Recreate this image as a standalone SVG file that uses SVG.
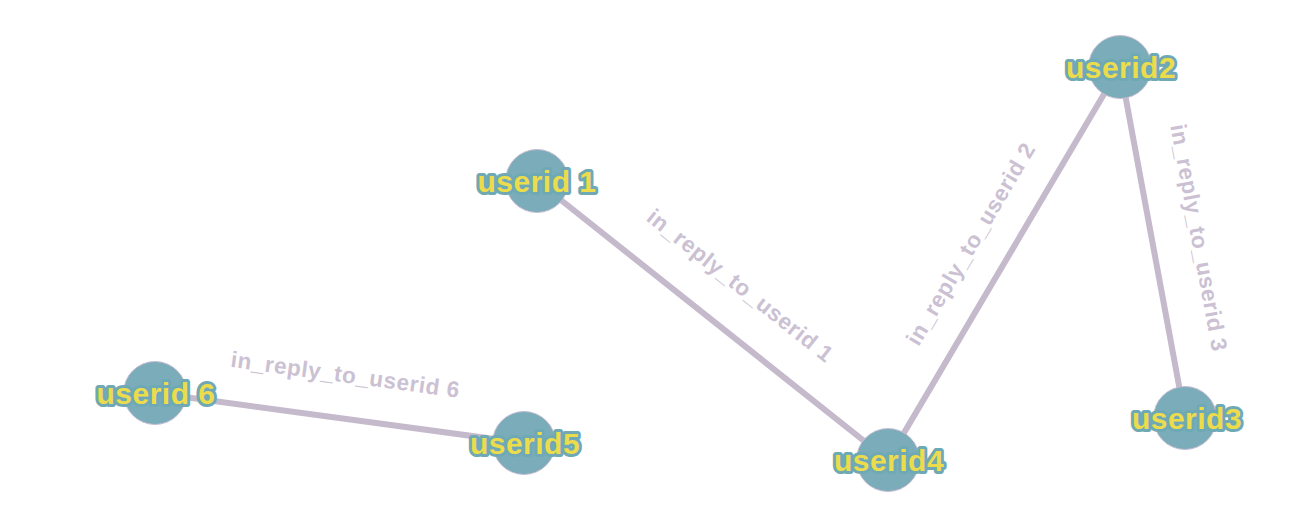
<svg xmlns="http://www.w3.org/2000/svg" width="1305" height="525" viewBox="0 0 1305 525">
<style>
.edge{stroke:#c5b9cc;stroke-width:6;stroke-linecap:round;fill:none}
.elabel{font-family:"Liberation Sans",Arial,sans-serif;font-weight:bold;font-size:22.5px;letter-spacing:0.6px;fill:#cbc1d3;text-anchor:middle}
.node circle{fill:#7aadb9;stroke:#c8bcd2;stroke-width:1}
.node text{font-family:"Liberation Sans",Arial,sans-serif;font-weight:bold;font-size:30px;letter-spacing:0.5px;fill:#ecdc4c;stroke:#6ea9b5;stroke-width:6;stroke-linejoin:round;paint-order:stroke;text-anchor:middle}
</style>
<rect width="1305" height="525" fill="#ffffff"/>
<g id="connectors">
<line class="edge" x1="537" y1="181" x2="888" y2="460"/>
<line class="edge" x1="1120" y1="67" x2="888" y2="460"/>
<line class="edge" x1="1120" y1="67" x2="1185" y2="418"/>
<line class="edge" x1="155" y1="393" x2="524" y2="443"/>
<g transform="translate(712.5,320.5) rotate(38.5)"><text class="elabel" x="0" y="-37">in_reply_to_userid 1</text></g>
<g transform="translate(1004,263.5) rotate(-59.4)"><text class="elabel" x="0" y="-31">in_reply_to_userid 2</text></g>
<g transform="translate(1155,246) rotate(79.5)"><text class="elabel" x="0" y="-37">in_reply_to_userid 3</text></g>
<g transform="translate(339.5,418) rotate(7.7)"><text class="elabel" x="0" y="-36">in_reply_to_userid 6</text></g>
</g>
<g id="node-userid1" class="node"><circle cx="537" cy="181" r="31.5"/><text x="537" y="192">userid 1</text></g>
<g id="node-userid2" class="node"><circle cx="1120" cy="67" r="31.5"/><text x="1121" y="78">userid2</text></g>
<g id="node-userid3" class="node"><circle cx="1185" cy="418" r="31.5"/><text x="1187" y="429">userid3</text></g>
<g id="node-userid4" class="node"><circle cx="888" cy="460" r="31.5"/><text x="889" y="471">userid4</text></g>
<g id="node-userid5" class="node"><circle cx="524" cy="443" r="31.5"/><text x="525" y="454">userid5</text></g>
<g id="node-userid6" class="node"><circle cx="155" cy="393" r="31.5"/><text x="156" y="404">userid 6</text></g>
</svg>
